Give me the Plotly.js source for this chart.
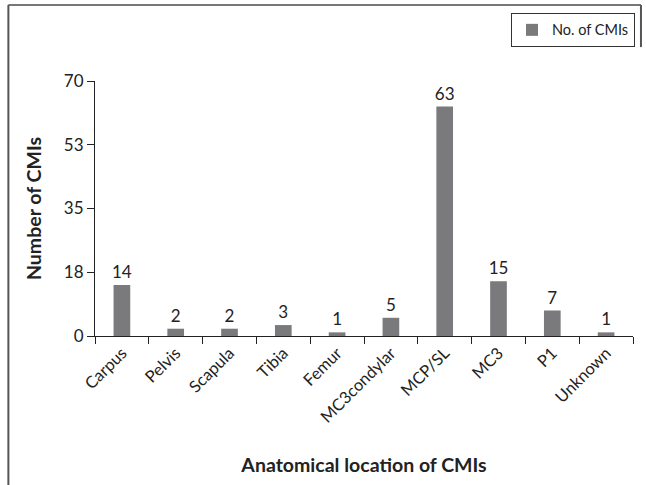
<!DOCTYPE html>
<html>
<head>
<meta charset="utf-8">
<script src="https://cdn.plot.ly/plotly-3.0.1.min.js"></script>
<style>html,body{margin:0;padding:0;background:#fff;}#chart{width:646px;height:485px;}</style>
</head>
<body>
<div id="chart"></div>
<script>
const categories = ["Carpus","Pelvis","Scapula","Tibia","Femur","MC3condylar","MCP/SL","MC3","P1","Unknown"];
const counts = [14, 2, 2, 3, 1, 5, 63, 15, 7, 1];
const yTickVals = [0, 17.5, 35, 52.5, 70];
const yTickText = ["0", "18", "35", "53", "70"];
const seriesName = "No. of CMIs";

const FONT = "Lato, 'Open Sans', sans-serif";

const trace = {
  type: "bar",
  x: categories,
  y: counts,
  name: seriesName,
  marker: {color: "#7a7a7d"},
  text: counts.map(String),
  textposition: "outside",
  constraintext: "none",
  cliponaxis: false,
  textfont: {family: FONT, size: 17, color: "#222"},
  hoverinfo: "x+y"
};

const layout = {
  width: 646, height: 485,
  margin: {l: 95, r: 11, t: 81, b: 149},
  paper_bgcolor: "#fff", plot_bgcolor: "#fff",
  font: {family: FONT, color: "#222"},
  bargap: 0.69,
  showlegend: true,
  legend: {
    x: 1.0037, y: 1.267, xanchor: "right", yanchor: "top",
    bordercolor: "#333", borderwidth: 1, bgcolor: "#fff",
    font: {family: FONT, size: 14.5, color: "#222"}
  },
  xaxis: {
    type: "category",
    showline: true, linecolor: "#222", linewidth: 1,
    ticks: "outside", ticklen: 7, tickcolor: "#222", tickson: "boundaries",
    tickangle: -45,
    tickfont: {family: FONT, size: 16.5, color: "#222"},
    showgrid: false, zeroline: false,
    title: {text: "<b>Anatomical location of CMIs</b>", font: {family: FONT, size: 19.5, color: "#222"}, standoff: 32},
    automargin: false
  },
  yaxis: {
    range: [0, 70],
    tickvals: yTickVals, ticktext: yTickText,
    showline: true, linecolor: "#222", linewidth: 1,
    ticks: "outside", ticklen: 7, tickcolor: "#222",
    tickfont: {family: FONT, size: 17, color: "#222"},
    showgrid: false, zeroline: false,
    title: {text: "<b>Number of CMIs</b>", font: {family: FONT, size: 19.5, color: "#222"}, standoff: 17},
    automargin: false
  },
  shapes: [
    {type: "line", xref: "paper", yref: "paper", x0: -0.161, x1: 1.0148, y0: 1.298, y1: 1.298, line: {color: "#777", width: 2}},
    {type: "line", xref: "paper", yref: "paper", x0: -0.161, x1: -0.161, y0: 1.298, y1: -0.62, line: {color: "#555", width: 2}},
    {type: "line", xref: "paper", yref: "paper", x0: 1.0148, x1: 1.0148, y0: 1.298, y1: 1.133, line: {color: "#555", width: 2}}
  ]
};

Plotly.newPlot("chart", [trace], layout, {displayModeBar: false, staticPlot: true});
</script>
</body>
</html>
